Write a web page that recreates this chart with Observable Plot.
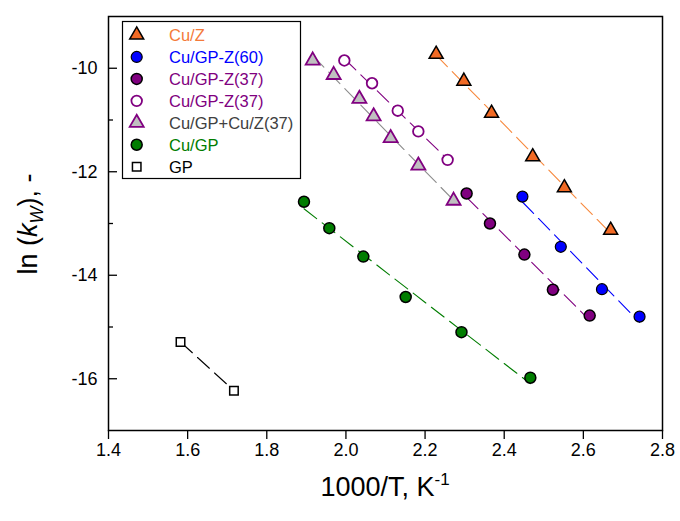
<!DOCTYPE html>
<html>
<head>
<meta charset="utf-8">
<script src="https://cdn.jsdelivr.net/npm/d3@7"></script>
<script src="https://cdn.jsdelivr.net/npm/@observablehq/plot@0.6"></script>
<style>
  html, body { margin: 0; padding: 0; background: #fff; }
  #chart svg { display: block; }
</style>
</head>
<body>
<div id="chart"></div>
<script>
// ---- data ----
const cuZ_x = [2.228, 2.298, 2.368, 2.472, 2.552, 2.669];
const cuZ_y = [-9.73, -10.25, -10.87, -11.71, -12.31, -13.13];

const gpz60_x = [2.446, 2.543, 2.647, 2.742];
const gpz60_y = [-12.48, -13.45, -14.27, -14.80];

const gpz37f_x = [2.305, 2.364, 2.451, 2.523, 2.616];
const gpz37f_y = [-12.42, -13.00, -13.60, -14.28, -14.78];

const gpz37o_x = [1.996, 2.066, 2.131, 2.183, 2.257];
const gpz37o_y = [-9.85, -10.29, -10.82, -11.22, -11.77];

const gpcuz_x = [1.916, 1.969, 2.034, 2.070, 2.113, 2.183, 2.272];
const gpcuz_y = [-9.85, -10.13, -10.59, -10.93, -11.35, -11.88, -12.56];

const cuGP_x = [1.894, 1.958, 2.044, 2.151, 2.292, 2.466];
const cuGP_y = [-12.58, -13.09, -13.64, -14.42, -15.10, -15.98];

const gp_x = [1.582, 1.717];
const gp_y = [-15.29, -16.23];

const xTicks = [1.4, 1.6, 1.8, 2.0, 2.2, 2.4, 2.6, 2.8];
const yTicks = [-16, -14, -12, -10];
const yMinorTicks = [-15, -13, -11];

const legendLabels = ["Cu/Z", "Cu/GP-Z(60)", "Cu/GP-Z(37)", "Cu/GP-Z(37)", "Cu/GP+Cu/Z(37)", "Cu/GP", "GP"];

// ---- build tables ----
const zip = (xs, ys) => xs.map((x, i) => ({x, y: ys[i]}));
const cuZ = zip(cuZ_x, cuZ_y);
const gpz60 = zip(gpz60_x, gpz60_y);
const gpz37f = zip(gpz37f_x, gpz37f_y);
const gpz37o = zip(gpz37o_x, gpz37o_y);
const gpcuz = zip(gpcuz_x, gpcuz_y);
const cuGP = zip(cuGP_x, cuGP_y);
const gp = zip(gp_x, gp_y);

const C = {
  orange: "#f26a24", orangeLine: "#f7883c", orangeText: "#f47a3a",
  blue: "#0000ff", purple: "#800080", green: "#007d00",
  grayFill: "#c0c0c0", grayLine: "#8c8c8c", grayText: "#404040"
};
const dash = "16,7";
const FONT = "'Liberation Sans', Arial, sans-serif";

const reg = (data, stroke) => Plot.linearRegressionY(data, {x: "x", y: "y", ci: 0, stroke, strokeWidth: 1.1, strokeDasharray: dash});
const lineTwo = (data, stroke) => Plot.line(data, {x: "x", y: "y", stroke, strokeWidth: 1.1, strokeDasharray: dash});

const W = 680, H = 521;
const svg = Plot.plot({
  width: W, height: H,
  marginLeft: 108, marginRight: 18, marginTop: 16, marginBottom: 91,
  style: {fontFamily: FONT, fontSize: "18px", color: "black", background: "white"},
  x: {domain: [1.4, 2.8]},
  y: {domain: [-17, -9]},
  marks: [
    Plot.axisX({ticks: xTicks, tickFormat: d => d.toFixed(1), tickSize: 9, tickPadding: 4, label: null, fontSize: 18, strokeWidth: 1.3}),
    Plot.axisY({ticks: yTicks, tickFormat: d => String(d), tickSize: -9, tickPadding: 20, label: null, fontSize: 18, strokeWidth: 1.3}),
    Plot.axisY({ticks: yMinorTicks, tickSize: -5, text: null, label: null, strokeWidth: 1.3}),
    Plot.frame({stroke: "black", strokeWidth: 1.5}),
    reg(cuZ, C.orangeLine),
    reg(gpz60, C.blue),
    reg(gpz37f, C.purple),
    reg(gpz37o, C.purple),
    reg(gpcuz, C.grayLine),
    reg(cuGP, C.green),
    lineTwo(gp, "black"),
    Plot.dot(gp, {x: "x", y: "y", symbol: "square", r: 4.8, fill: "white", stroke: "black", strokeWidth: 1.5}),
    Plot.dot(cuGP, {x: "x", y: "y", r: 5.5, fill: C.green, stroke: "black", strokeWidth: 1.5}),
    Plot.dot(gpcuz, {x: "x", y: "y", symbol: "triangle", r: 5.2, fill: C.grayFill, stroke: C.purple, strokeWidth: 1.8}),
    Plot.dot(gpz37o, {x: "x", y: "y", r: 5.3, fill: "white", stroke: C.purple, strokeWidth: 1.8}),
    Plot.dot(gpz37f, {x: "x", y: "y", r: 5.5, fill: C.purple, stroke: "black", strokeWidth: 1.5}),
    Plot.dot(gpz60, {x: "x", y: "y", r: 5.5, fill: C.blue, stroke: "black", strokeWidth: 1.2}),
    Plot.dot(cuZ, {x: "x", y: "y", symbol: "triangle", r: 5.2, fill: C.orange, stroke: "black", strokeWidth: 1.5})
  ]
});

const s = d3.select(svg);

// legend
const lg = s.append("g").attr("font-family", FONT).attr("font-size", 16.5).attr("text-anchor", "start");
lg.append("rect").attr("x", 122.5).attr("y", 21.5).attr("width", 178).attr("height", 157)
  .attr("fill", "white").attr("stroke", "black").attr("stroke-width", 1.2);
const legendStyle = [
  {sym: d3.symbolTriangle, fill: C.orange, stroke: "black", sw: 1.5, text: C.orangeText, r: 5.2},
  {sym: d3.symbolCircle, fill: C.blue, stroke: "black", sw: 1.2, text: C.blue, r: 5.5},
  {sym: d3.symbolCircle, fill: C.purple, stroke: "black", sw: 1.5, text: C.purple, r: 5.5},
  {sym: d3.symbolCircle, fill: "white", stroke: C.purple, sw: 1.8, text: C.purple, r: 5.3},
  {sym: d3.symbolTriangle, fill: C.grayFill, stroke: C.purple, sw: 1.8, text: C.grayText, r: 5.2},
  {sym: d3.symbolCircle, fill: C.green, stroke: "black", sw: 1.5, text: C.green, r: 5.5},
  {sym: d3.symbolSquare, fill: "white", stroke: "black", sw: 1.5, text: "black", r: 4.8}
];
legendLabels.forEach((lab, i) => {
  const st = legendStyle[i];
  const cy = 35 + i * 21.95;
  lg.append("path").attr("transform", `translate(136.7,${cy})`)
    .attr("d", d3.symbol(st.sym, Math.PI * st.r * st.r)())
    .attr("fill", st.fill).attr("stroke", st.stroke).attr("stroke-width", st.sw);
  lg.append("text").attr("x", 169).attr("y", cy).attr("dy", "0.36em")
    .attr("text-anchor", "start").attr("fill", st.text).text(lab);
});

// axis titles
const xl = s.append("text").attr("x", 385).attr("y", 496).attr("text-anchor", "middle")
  .attr("font-family", FONT).attr("font-size", 27).attr("fill", "black");
xl.append("tspan").text("1000/T, K");
xl.append("tspan").attr("dy", -11).attr("font-size", 17).text("-1");

const yl = s.append("text").attr("transform", "translate(37,224) rotate(-90)").attr("text-anchor", "middle")
  .attr("font-family", FONT).attr("font-size", 27).attr("fill", "black");
yl.append("tspan").text("ln (");
yl.append("tspan").attr("font-style", "italic").text("k");
yl.append("tspan").attr("font-style", "italic").attr("font-size", 18).attr("dy", 6).text("W");
yl.append("tspan").attr("dy", -6).text("), -");

document.getElementById("chart").appendChild(svg);
</script>
</body>
</html>
